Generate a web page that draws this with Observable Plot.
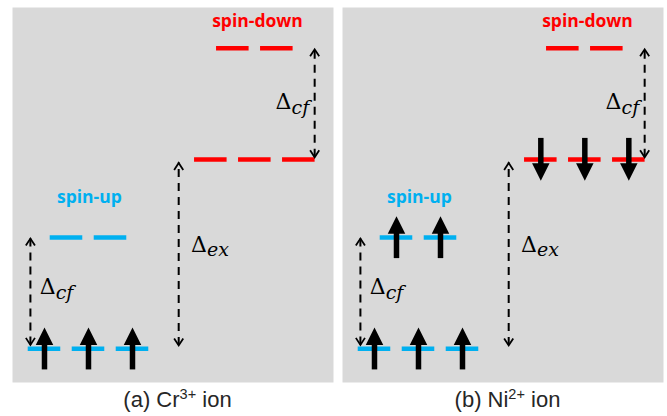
<!DOCTYPE html>
<html>
<head>
<meta charset="utf-8">
<script src="https://cdn.jsdelivr.net/npm/d3@7"></script>
<script src="https://cdn.jsdelivr.net/npm/@observablehq/plot@0.6"></script>
<style>
html, body { margin: 0; padding: 0; background: #ffffff; }
#wrap { position: relative; width: 667px; height: 416px; overflow: hidden; }
#wrap svg { display: block; }
.cap { position: absolute; top: 388px; font-family: "Liberation Sans", Arial, sans-serif; font-size: 22px; line-height: 24px; color: #262626; white-space: nowrap; transform: translateX(-50%); }
.cap sup { font-size: 0.66em; vertical-align: 0; position: relative; top: -0.55em; }
</style>
</head>
<body>
<div id="wrap"></div>
<script>
// ---- data ----
const ions = ["a", "b"];
const ionNames = ["Cr", "Ni"];
const ionCharges = ["3+", "2+"];
const ionPrefixes = ["(a)", "(b)"];

// energy levels in units of Δcf: t2g↑, eg↑, t2g↓, eg↓
const levelEnergy = [0, 1, 1.7, 2.7];
const levelSpin = ["up", "up", "down", "down"];

// orbitals (slot position along the panel, level index)
const orbitalLevel = [0, 0, 0, 1, 1, 2, 2, 2, 3, 3];
const orbitalSlot = [1, 2, 3, 1.5, 2.5, 4.78, 5.78, 6.78, 5.28, 6.28];

// electrons per level
const occupancyCr = [3, 0, 0, 0];
const occupancyNi = [3, 2, 3, 0];

// energy gaps (dashed double arrows) and their labels
const gapSlot = [0.68, 4.05, 7.14];
const gapFrom = [0.035, 0.03, 1.72];
const gapTo = [0.99, 1.67, 2.69];
const gapSub = ["cf", "ex", "cf"];
const gapLabelSlot = [0.89, 4.33, 6.25];
const gapLabelE = [0.49, 0.87, 2.15];

// spin labels
const spinLabels = ["spin-up", "spin-down"];
const spinLabelSlot = [2.02, 5.84];
const spinLabelE = [1.311, 2.889];

// ---- derived tables ----
const spinColor = {up: "#00B0F0", down: "#FF0000"};
const occupancies = [occupancyCr, occupancyNi];

const orbitals = ions.flatMap(ion => orbitalSlot.map((x, i) => ({
  ion, x, E: levelEnergy[orbitalLevel[i]], spin: levelSpin[orbitalLevel[i]]
})));

const electrons = ions.flatMap((ion, j) => {
  const out = [];
  levelEnergy.forEach((E, L) => {
    const slots = orbitalSlot.filter((_, i) => orbitalLevel[i] === L);
    slots.slice(0, occupancies[j][L]).forEach(x => out.push({ion, x, E, dir: levelSpin[L]}));
  });
  return out;
});

const gaps = ions.flatMap(ion => gapSlot.map((x, i) => ({
  ion, x, from: gapFrom[i], to: gapTo[i], sub: gapSub[i], lx: gapLabelSlot[i], ly: gapLabelE[i]
})));

const spinText = ions.flatMap(ion => spinLabels.map((t, i) => ({
  ion, t, x: spinLabelSlot[i], E: spinLabelE[i], color: spinColor[i === 0 ? "up" : "down"]
})));

// ---- custom symbols ----
const headUp = {draw(ctx, size) { const s = Math.sqrt(size / Math.PI); ctx.moveTo(0, 0); ctx.lineTo(s / 2, s); ctx.lineTo(-s / 2, s); ctx.closePath(); }};
const headDown = {draw(ctx, size) { const s = Math.sqrt(size / Math.PI); ctx.moveTo(0, 0); ctx.lineTo(s / 2, -s); ctx.lineTo(-s / 2, -s); ctx.closePath(); }};
const vUp = {draw(ctx, size) { const s = Math.sqrt(size / Math.PI); ctx.moveTo(-s * 0.65, s); ctx.lineTo(0, 0); ctx.lineTo(s * 0.65, s); }};
const vDown = {draw(ctx, size) { const s = Math.sqrt(size / Math.PI); ctx.moveTo(-s * 0.65, -s); ctx.lineTo(0, 0); ctx.lineTo(s * 0.65, -s); }};

const halfW = 0.37;   // half width of a level segment (slot units)
const A = 0.19;       // half length of an electron arrow (energy units)

const plot = Plot.plot({
  width: 667,
  height: 382,
  marginTop: 7,
  marginBottom: 0,
  marginLeft: 12,
  marginRight: 4,
  fx: {domain: ions, paddingInner: 9 / 330, paddingOuter: 0, axis: null, round: false},
  x: {domain: [0.273, 7.568], axis: null},
  y: {domain: [-0.303, 3.066], axis: null},
  color: {type: "identity"},
  style: {background: "white", overflow: "visible"},
  marks: [
    Plot.frame({fill: "#d9d9d9", stroke: "none"}),
    Plot.ruleY(orbitals, {fx: "ion", y: "E", x1: d => d.x - halfW, x2: d => d.x + halfW, stroke: d => spinColor[d.spin], strokeWidth: 4.5}),
    // dashed gap arrows
    Plot.ruleX(gaps, {fx: "ion", x: "x", y1: "from", y2: "to", stroke: "black", strokeWidth: 2, strokeDasharray: "8,6"}),
    Plot.dot(gaps, {fx: "ion", x: "x", y: "to", symbol: vUp, r: 7, fill: "none", stroke: "black", strokeWidth: 1.8}),
    Plot.dot(gaps, {fx: "ion", x: "x", y: "from", symbol: vDown, r: 7, fill: "none", stroke: "black", strokeWidth: 1.8}),
    Plot.text(gaps, {fx: "ion", x: "lx", y: "ly", text: () => "Δ", textAnchor: "start", lineAnchor: "bottom", fontFamily: "DejaVu Serif", fontSize: 22, fill: "black"}),
    Plot.text(gaps, {fx: "ion", x: "lx", y: "ly", text: "sub", dx: 16, dy: 4.5, textAnchor: "start", lineAnchor: "bottom", fontFamily: "DejaVu Serif", fontStyle: "italic", fontSize: 19, fill: "black"}),
    // electrons
    Plot.ruleX(electrons, {fx: "ion", x: "x", y1: d => d.dir === "up" ? d.E - A : d.E + A, y2: d => d.dir === "up" ? d.E + 0.1 : d.E - 0.1, stroke: "black", strokeWidth: 5.5}),
    Plot.dot(electrons.filter(d => d.dir === "up"), {fx: "ion", x: "x", y: d => d.E + A, symbol: headUp, r: 17.5, fill: "black", stroke: "none"}),
    Plot.dot(electrons.filter(d => d.dir === "down"), {fx: "ion", x: "x", y: d => d.E - A, symbol: headDown, r: 17.5, fill: "black", stroke: "none"}),
    // spin labels
    Plot.text(spinText, {fx: "ion", x: "x", y: "E", text: "t", fill: "color", lineAnchor: "bottom", fontFamily: "Open Sans", fontWeight: 700, fontSize: 17.5})
  ]
});

const wrap = document.getElementById("wrap");
wrap.appendChild(plot);

const fxScale = plot.scale("fx");
ions.forEach((ion, i) => {
  const div = document.createElement("div");
  div.className = "cap";
  div.style.left = (fxScale.apply(ion) + fxScale.bandwidth / 2 + 5) + "px";
  div.innerHTML = `${ionPrefixes[i]} ${ionNames[i]}<sup>${ionCharges[i]}</sup> ion`;
  wrap.appendChild(div);
});
</script>
</body>
</html>
